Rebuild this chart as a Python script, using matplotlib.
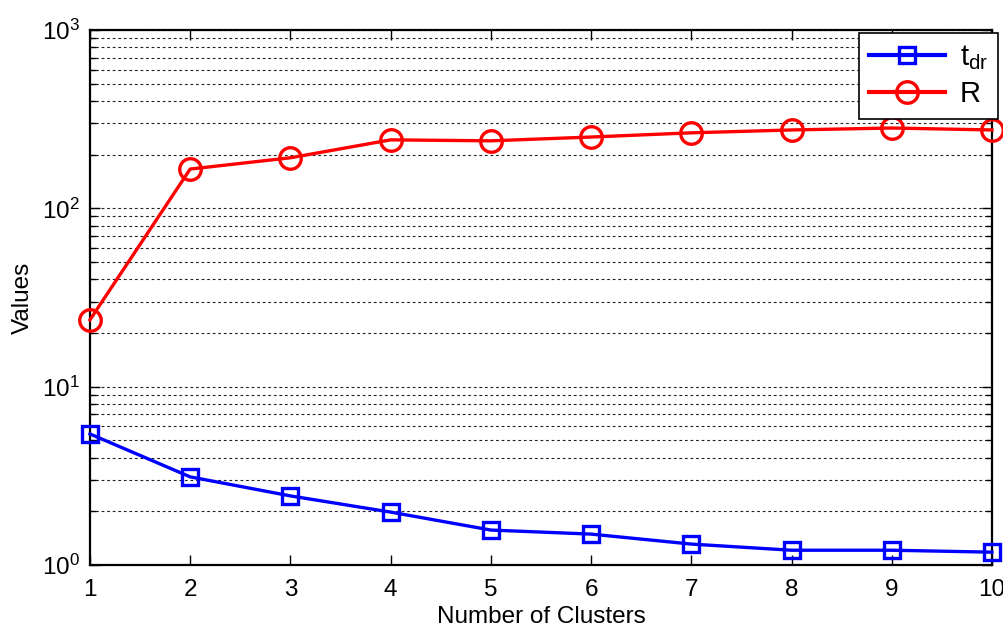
import math
import matplotlib
matplotlib.use("Agg")
import matplotlib.pyplot as plt
from matplotlib.ticker import LogLocator, FixedLocator, FuncFormatter, NullFormatter

plt.rcParams['font.family'] = ['Liberation Sans', 'DejaVu Sans']
plt.rcParams['mathtext.fontset'] = 'custom'
plt.rcParams['mathtext.rm'] = 'Liberation Sans'
plt.rcParams['mathtext.it'] = 'Liberation Sans'
plt.rcParams['mathtext.default'] = 'regular'

clusters = [1, 2, 3, 4, 5, 6, 7, 8, 9, 10]
t_dr = [5.43, 3.12, 2.44, 1.98, 1.57, 1.49, 1.31, 1.21, 1.21, 1.18]
R = [23.7, 166, 192, 242, 239, 251, 265, 275, 282, 275]

fig = plt.figure(figsize=(10.04, 6.27), dpi=100)
ax = fig.add_axes([0.0896, 0.0989, 0.8984, 0.8533])

ax.plot(clusters, t_dr, color='#0000ff', lw=2.4, marker='s', ms=12,
        mfc='none', mec='#0000ff', mew=2.4, label='$t_{dr}$', clip_on=False, zorder=5)
ax.plot(clusters, R, color='#ff0000', lw=2.4, marker='o', ms=15.5,
        mfc='none', mec='#ff0000', mew=2.4, label='R', clip_on=False, zorder=5)

ax.set_yscale('log')
ax.set_ylim(1, 1000)
ax.set_xlim(1, 10)
ax.set_xticks(clusters)
ax.yaxis.set_major_locator(FixedLocator([1, 10, 100, 1000]))
ax.yaxis.set_major_formatter(FuncFormatter(lambda v, p: '$10^{%d}$' % round(math.log10(v))))
ax.yaxis.set_minor_locator(LogLocator(base=10, subs=range(2, 10)))
ax.yaxis.set_minor_formatter(NullFormatter())

ax.grid(True, axis='y', which='both', linestyle=(0, (2.5, 2.5)), color='#222222', lw=0.8)
ax.tick_params(which='both', direction='in', top=True, right=True, labelsize=17.5, width=1)
ax.tick_params(axis='x', pad=10)
ax.tick_params(axis='y', pad=7)
ax.tick_params(which='major', length=7)
ax.tick_params(which='minor', length=4)
for s in ax.spines.values():
    s.set_linewidth(1.6)

ax.set_xlabel('Number of Clusters', fontsize=17.5, labelpad=4)
ax.set_ylabel('Values', fontsize=17.5, labelpad=6)

leg = ax.legend(loc='upper right', bbox_to_anchor=(0.994, 0.948), bbox_transform=fig.transFigure,
                fontsize=21, fancybox=False, framealpha=1, edgecolor='black',
                handlelength=2.6, handletextpad=0.5, borderaxespad=0, borderpad=0.35,
                labelspacing=0.3)
leg.get_frame().set_linewidth(1.2)
for ln in leg.get_lines():
    ln.set_linewidth(3)

fig.savefig('out.png', dpi=100)
